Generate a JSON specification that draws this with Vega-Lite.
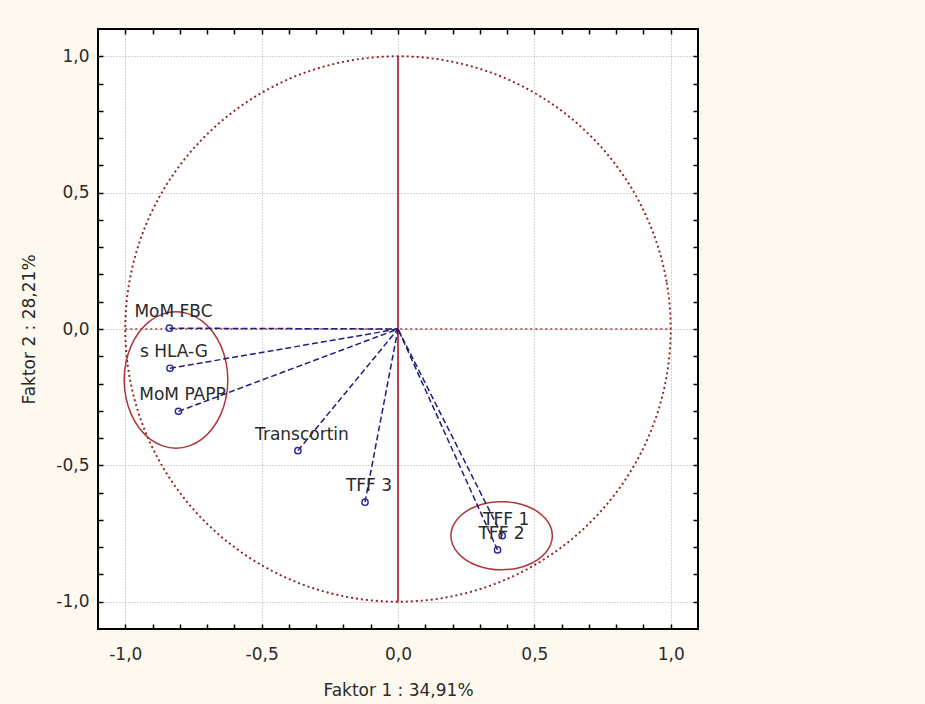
{
  "$schema": "https://vega.github.io/schema/vega-lite/v6.json",
  "width": 600,
  "height": 600,
  "autosize": "none",
  "padding": {"left": 98, "top": 29, "right": 227, "bottom": 75},
  "background": "#fdf9ef",
  "config": {
    "view": {"fill": "white", "stroke": "black", "strokeWidth": 2},
    "font": "DejaVu Sans"
  },
  "datasets": {
    "loadings": [
      {"name": "MoM FBC", "x": -0.838, "y": 0.003},
      {"name": "s HLA-G", "x": -0.836, "y": -0.144},
      {"name": "MoM PAPP", "x": -0.805, "y": -0.302},
      {"name": "Transcortin", "x": -0.367, "y": -0.446},
      {"name": "TFF 3", "x": -0.121, "y": -0.635},
      {"name": "TFF 1", "x": 0.382, "y": -0.758},
      {"name": "TFF 2", "x": 0.365, "y": -0.81}
    ],
    "crosshair": [
      {"k": "v", "x": 0, "y": -1, "x2": 0, "y2": 1},
      {"k": "h", "x": -1, "y": 0, "x2": 1, "y2": 0}
    ],
    "circle": [
      {"i": 0, "x": 1, "y": 0}, {"i": 1, "x": 0.9848, "y": 0.1736}, {"i": 2, "x": 0.9397, "y": 0.342},
      {"i": 3, "x": 0.866, "y": 0.5}, {"i": 4, "x": 0.766, "y": 0.6428}, {"i": 5, "x": 0.6428, "y": 0.766},
      {"i": 6, "x": 0.5, "y": 0.866}, {"i": 7, "x": 0.342, "y": 0.9397}, {"i": 8, "x": 0.1736, "y": 0.9848},
      {"i": 9, "x": 0, "y": 1}, {"i": 10, "x": -0.1736, "y": 0.9848}, {"i": 11, "x": -0.342, "y": 0.9397},
      {"i": 12, "x": -0.5, "y": 0.866}, {"i": 13, "x": -0.6428, "y": 0.766}, {"i": 14, "x": -0.766, "y": 0.6428},
      {"i": 15, "x": -0.866, "y": 0.5}, {"i": 16, "x": -0.9397, "y": 0.342}, {"i": 17, "x": -0.9848, "y": 0.1736},
      {"i": 18, "x": -1, "y": 0}, {"i": 19, "x": -0.9848, "y": -0.1736}, {"i": 20, "x": -0.9397, "y": -0.342},
      {"i": 21, "x": -0.866, "y": -0.5}, {"i": 22, "x": -0.766, "y": -0.6428}, {"i": 23, "x": -0.6428, "y": -0.766},
      {"i": 24, "x": -0.5, "y": -0.866}, {"i": 25, "x": -0.342, "y": -0.9397}, {"i": 26, "x": -0.1736, "y": -0.9848},
      {"i": 27, "x": 0, "y": -1}, {"i": 28, "x": 0.1736, "y": -0.9848}, {"i": 29, "x": 0.342, "y": -0.9397},
      {"i": 30, "x": 0.5, "y": -0.866}, {"i": 31, "x": 0.6428, "y": -0.766}, {"i": 32, "x": 0.766, "y": -0.6428},
      {"i": 33, "x": 0.866, "y": -0.5}, {"i": 34, "x": 0.9397, "y": -0.342}, {"i": 35, "x": 0.9848, "y": -0.1736}
    ],
    "ellipses": [
      {"e": 1, "i": 0, "x": -0.624, "y": -0.187}, {"e": 1, "i": 1, "x": -0.6305, "y": -0.1223},
      {"e": 1, "i": 2, "x": -0.6495, "y": -0.062}, {"e": 1, "i": 3, "x": -0.6797, "y": -0.0102},
      {"e": 1, "i": 4, "x": -0.719, "y": 0.0295}, {"e": 1, "i": 5, "x": -0.7648, "y": 0.0545},
      {"e": 1, "i": 6, "x": -0.814, "y": 0.063}, {"e": 1, "i": 7, "x": -0.8632, "y": 0.0545},
      {"e": 1, "i": 8, "x": -0.909, "y": 0.0295}, {"e": 1, "i": 9, "x": -0.9483, "y": -0.0102},
      {"e": 1, "i": 10, "x": -0.9785, "y": -0.062}, {"e": 1, "i": 11, "x": -0.9975, "y": -0.1223},
      {"e": 1, "i": 12, "x": -1.004, "y": -0.187}, {"e": 1, "i": 13, "x": -0.9975, "y": -0.2517},
      {"e": 1, "i": 14, "x": -0.9785, "y": -0.312}, {"e": 1, "i": 15, "x": -0.9483, "y": -0.3638},
      {"e": 1, "i": 16, "x": -0.909, "y": -0.4035}, {"e": 1, "i": 17, "x": -0.8632, "y": -0.4285},
      {"e": 1, "i": 18, "x": -0.814, "y": -0.437}, {"e": 1, "i": 19, "x": -0.7648, "y": -0.4285},
      {"e": 1, "i": 20, "x": -0.719, "y": -0.4035}, {"e": 1, "i": 21, "x": -0.6797, "y": -0.3638},
      {"e": 1, "i": 22, "x": -0.6495, "y": -0.312}, {"e": 1, "i": 23, "x": -0.6305, "y": -0.2517},
      {"e": 2, "i": 0, "x": 0.566, "y": -0.758}, {"e": 2, "i": 1, "x": 0.5597, "y": -0.7256},
      {"e": 2, "i": 2, "x": 0.5411, "y": -0.6955}, {"e": 2, "i": 3, "x": 0.5115, "y": -0.6696},
      {"e": 2, "i": 4, "x": 0.473, "y": -0.6497}, {"e": 2, "i": 5, "x": 0.4281, "y": -0.6373},
      {"e": 2, "i": 6, "x": 0.38, "y": -0.633}, {"e": 2, "i": 7, "x": 0.3319, "y": -0.6373},
      {"e": 2, "i": 8, "x": 0.287, "y": -0.6497}, {"e": 2, "i": 9, "x": 0.2485, "y": -0.6696},
      {"e": 2, "i": 10, "x": 0.2189, "y": -0.6955}, {"e": 2, "i": 11, "x": 0.2003, "y": -0.7256},
      {"e": 2, "i": 12, "x": 0.194, "y": -0.758}, {"e": 2, "i": 13, "x": 0.2003, "y": -0.7904},
      {"e": 2, "i": 14, "x": 0.2189, "y": -0.8205}, {"e": 2, "i": 15, "x": 0.2485, "y": -0.8464},
      {"e": 2, "i": 16, "x": 0.287, "y": -0.8663}, {"e": 2, "i": 17, "x": 0.3319, "y": -0.8787},
      {"e": 2, "i": 18, "x": 0.38, "y": -0.883}, {"e": 2, "i": 19, "x": 0.4281, "y": -0.8787},
      {"e": 2, "i": 20, "x": 0.473, "y": -0.8663}, {"e": 2, "i": 21, "x": 0.5115, "y": -0.8464},
      {"e": 2, "i": 22, "x": 0.5411, "y": -0.8205}, {"e": 2, "i": 23, "x": 0.5597, "y": -0.7904}
    ]
  },
  "encoding": {
    "x": {"field": "x", "type": "quantitative", "scale": {"domain": [-1.1, 1.1], "nice": false, "zero": false}, "axis": null},
    "y": {"field": "y", "type": "quantitative", "scale": {"domain": [-1.1, 1.1], "nice": false, "zero": false}, "axis": null}
  },
  "resolve": {"axis": {"x": "independent", "y": "independent"}},
  "layer": [
    {
      "data": {"name": "crosshair"},
      "transform": [{"filter": "datum.k === 'h'"}],
      "mark": {"type": "rule", "color": "#a83030", "strokeWidth": 1.6, "strokeDash": [2, 3]},
      "encoding": {
        "x": {
          "field": "x", "type": "quantitative",
          "scale": {"domain": [-1.1, 1.1], "nice": false, "zero": false},
          "axis": {
            "orient": "bottom",
            "values": [-1, -0.9, -0.8, -0.7, -0.6, -0.5, -0.4, -0.3, -0.2, -0.1, 0, 0.1, 0.2, 0.3, 0.4, 0.5, 0.6, 0.7, 0.8, 0.9, 1],
            "labelExpr": "abs(datum.value*2 - round(datum.value*2)) < 0.001 ? (datum.value < -0.001 ? '-' : '') + replace(format(abs(datum.value), '.1f'), '.', ',') : ''",
            "domain": false,
            "grid": true,
            "gridColor": "#a8a8a8",
            "gridDash": [1, 2],
            "gridOpacity": {"condition": {"test": "abs(datum.value*2 - round(datum.value*2)) < 0.001", "value": 1}, "value": 0},
            "tickSize": -5,
            "tickColor": "black",
            "tickWidth": 1.5,
            "labelFont": "DejaVu Sans",
            "labelFontSize": 17,
            "labelColor": "#2a2a2a",
            "labelPadding": 22,
            "labelFlush": false,
            "labelOverlap": false,
            "title": "Faktor 1 : 34,91%",
            "titleFont": "DejaVu Sans",
            "titleFontSize": 17,
            "titleFontWeight": "normal",
            "titleColor": "#2a2a2a",
            "titlePadding": 20
          }
        },
        "y": {
          "field": "y", "type": "quantitative",
          "scale": {"domain": [-1.1, 1.1], "nice": false, "zero": false},
          "axis": {
            "orient": "left",
            "values": [-1, -0.9, -0.8, -0.7, -0.6, -0.5, -0.4, -0.3, -0.2, -0.1, 0, 0.1, 0.2, 0.3, 0.4, 0.5, 0.6, 0.7, 0.8, 0.9, 1],
            "labelExpr": "abs(datum.value*2 - round(datum.value*2)) < 0.001 ? (datum.value < -0.001 ? '-' : '') + replace(format(abs(datum.value), '.1f'), '.', ',') : ''",
            "domain": false,
            "grid": true,
            "gridColor": "#a8a8a8",
            "gridDash": [1, 2],
            "gridOpacity": {"condition": {"test": "abs(datum.value*2 - round(datum.value*2)) < 0.001", "value": 1}, "value": 0},
            "tickSize": -5,
            "tickColor": "black",
            "tickWidth": 1.5,
            "labelFont": "DejaVu Sans",
            "labelFontSize": 17,
            "labelColor": "#2a2a2a",
            "labelPadding": 14,
            "labelFlush": false,
            "labelOverlap": false,
            "title": "Faktor 2 : 28,21%",
            "titleFont": "DejaVu Sans",
            "titleFontSize": 17,
            "titleFontWeight": "normal",
            "titleColor": "#2a2a2a",
            "titlePadding": 17
          }
        },
        "x2": {"field": "x2"},
        "y2": {"field": "y2"}
      }
    },
    {
      "data": {"name": "crosshair"},
      "transform": [{"filter": "datum.k === 'v'"}],
      "mark": {"type": "rule", "color": "#b0303c", "strokeWidth": 1.8},
      "encoding": {
        "x": {
          "field": "x", "type": "quantitative",
          "scale": {"domain": [-1.1, 1.1], "nice": false, "zero": false},
          "axis": {
            "orient": "top",
            "values": [-1, -0.9, -0.8, -0.7, -0.6, -0.5, -0.4, -0.3, -0.2, -0.1, 0, 0.1, 0.2, 0.3, 0.4, 0.5, 0.6, 0.7, 0.8, 0.9, 1],
            "labels": false, "domain": false, "grid": false,
            "tickSize": -5, "tickColor": "black", "tickWidth": 1.5, "title": null
          }
        },
        "y": {
          "field": "y", "type": "quantitative",
          "scale": {"domain": [-1.1, 1.1], "nice": false, "zero": false},
          "axis": {
            "orient": "right",
            "values": [-1, -0.9, -0.8, -0.7, -0.6, -0.5, -0.4, -0.3, -0.2, -0.1, 0, 0.1, 0.2, 0.3, 0.4, 0.5, 0.6, 0.7, 0.8, 0.9, 1],
            "labels": false, "domain": false, "grid": false,
            "tickSize": -5, "tickColor": "black", "tickWidth": 1.5, "title": null
          }
        },
        "x2": {"field": "x2"},
        "y2": {"field": "y2"}
      }
    },
    {
      "data": {"name": "circle"},
      "mark": {"type": "line", "color": "#921e1e", "strokeWidth": 1.9, "strokeDash": [2, 3], "interpolate": "cardinal-closed"},
      "encoding": {
        "order": {"field": "i", "type": "quantitative"}
      }
    },
    {
      "data": {"name": "ellipses"},
      "mark": {"type": "line", "color": "#b03535", "strokeWidth": 1.5, "interpolate": "cardinal-closed"},
      "encoding": {
        "detail": {"field": "e", "type": "nominal"},
        "order": {"field": "i", "type": "quantitative"}
      }
    },
    {
      "data": {"name": "loadings"},
      "mark": {"type": "rule", "color": "#1e1e80", "strokeWidth": 1.5, "strokeDash": [6, 3]},
      "encoding": {
        "x2": {"datum": 0},
        "y2": {"datum": 0}
      }
    },
    {
      "data": {"name": "loadings"},
      "mark": {"type": "point", "shape": "circle", "filled": false, "size": 40, "color": "#2a2aa0", "strokeWidth": 1.4, "opacity": 1}
    },
    {
      "data": {"name": "loadings"},
      "mark": {"type": "text", "font": "DejaVu Sans", "fontSize": 17, "color": "#2a2a2a", "align": "center", "baseline": "middle", "dx": 4, "dy": -16},
      "encoding": {
        "text": {"field": "name", "type": "nominal"}
      }
    }
  ]
}
